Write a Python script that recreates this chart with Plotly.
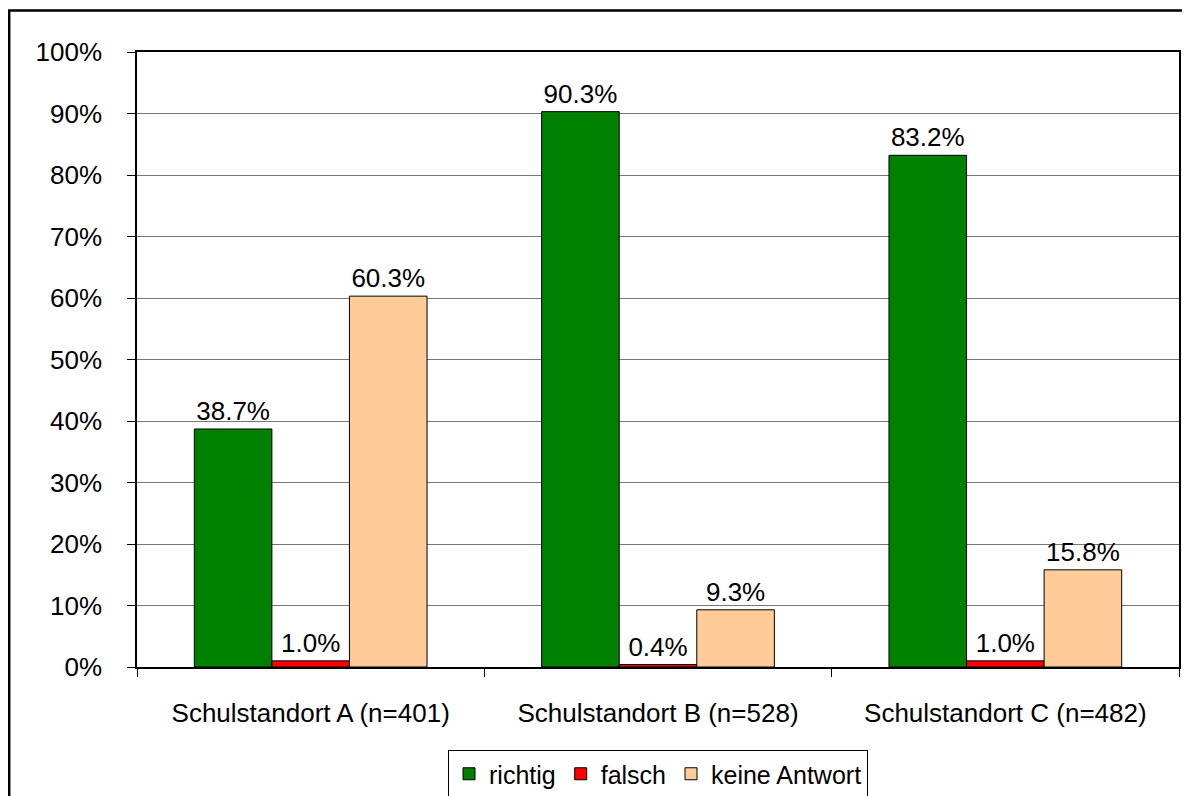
import plotly.graph_objects as go

categories = ["Schulstandort A (n=401)", "Schulstandort B (n=528)", "Schulstandort C (n=482)"]
richtig = [38.7, 90.3, 83.2]
falsch = [1.0, 0.4, 1.0]
keine = [60.3, 9.3, 15.8]
series = [("richtig", richtig, "#008000"), ("falsch", falsch, "#FF0000"), ("keine Antwort", keine, "#FFCC99")]
yticks = list(range(0, 101, 10))
yticktext = [f"{v}%" for v in yticks]

FONT = "Liberation Sans, Arial, sans-serif"
FS = 26
W, H = 1182, 788
ML, MR, MT, MB = 129, 11, 44, 129
PW, PH = W - ML - MR, H - MT - MB

fig = go.Figure()
for name, vals, col in series:
    fig.add_trace(go.Bar(
        x=categories, y=vals, name=name,
        marker=dict(color=col, line=dict(color="black", width=1)),
        text=[f"{v:.1f}%" for v in vals], textposition="outside",
        textfont=dict(size=FS, color="black", family=FONT),
        cliponaxis=False,
    ))

fig.update_layout(
    width=W, height=H,
    margin=dict(l=ML, r=MR, t=MT, b=MB, pad=0, autoexpand=False),
    paper_bgcolor="white", plot_bgcolor="white",
    barmode="group", bargap=0.33, bargroupgap=0,
    font=dict(family=FONT, size=FS, color="black"),
    showlegend=True,
    legend=dict(orientation="h", x=0.5, xanchor="center", y=-(750 - 8 - (MT + PH)) / PH, yanchor="top",
                bordercolor="black", borderwidth=1, font=dict(size=25),
                itemwidth=30, tracegroupgap=0),
)
fig.update_yaxes(range=[0, 100], tickvals=yticks, ticktext=yticktext, showgrid=True,
                 gridcolor="#777", gridwidth=1, showline=True, linecolor="black",
                 linewidth=1.5, ticks="outside", ticklen=8, tickcolor="black",
                 mirror=True, zeroline=False, tickfont=dict(size=FS),
                 ticklabelstandoff=20, automargin=False)
fig.update_xaxes(showline=True, linecolor="black", linewidth=1.5, ticks="outside",
                 tickson="boundaries", ticklen=8, tickcolor="black", mirror=True,
                 tickfont=dict(size=FS), ticklabelstandoff=22, automargin=False)

# outer frame (partially cut off at right and bottom like the reference)
fig.add_shape(type="rect", xref="paper", yref="paper",
              x0=(1.2 - ML) / PW, x1=(W + 20 - ML) / PW,
              y0=-(H + 20 - MT - PH) / PH, y1=1 + (MT - 2.5) / PH,
              line=dict(color="black", width=2.5), layer="below")

fig.write_html("out.html")
